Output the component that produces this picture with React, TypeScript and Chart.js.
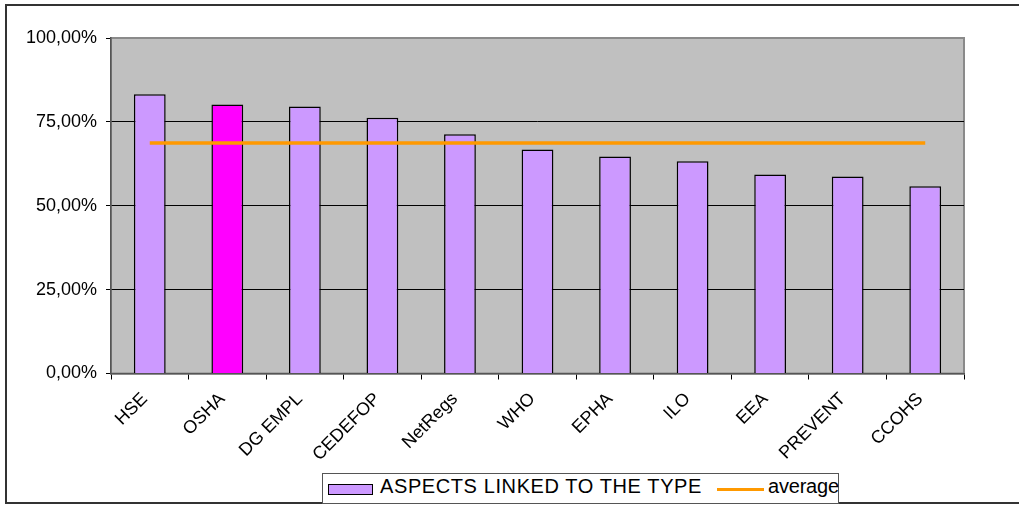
import React, { useEffect, useRef } from "react";
import { Chart, registerables } from "chart.js";

Chart.register(...registerables);

const categories = ["HSE", "OSHA", "DG EMPL", "CEDEFOP", "NetRegs", "WHO", "EPHA", "ILO", "EEA", "PREVENT", "CCOHS"];
const aspectsValues = [83.2, 80.2, 79.6, 76.2, 71.3, 66.8, 64.7, 63.3, 59.3, 58.7, 55.8];
const averageValues = [68.7, 68.7, 68.7, 68.7, 68.7, 68.7, 68.7, 68.7, 68.7, 68.7, 68.7];
const highlighted = "OSHA";
const yTicks = [0, 25, 50, 75, 100];
const barLabel = "ASPECTS LINKED TO THE TYPE";
const lineLabel = "average";

const FONT = "'Liberation Sans', Arial, sans-serif";
const BAR = "#CC99FF";
const BAR_HI = "#FF00FF";
const ORANGE = "#FF9900";

const plotBg = {
  id: "plotBg",
  beforeDraw(chart: any) {
    const { ctx, chartArea: a } = chart;
    ctx.save();
    ctx.fillStyle = "#C0C0C0";
    ctx.fillRect(a.left, a.top, a.right - a.left, a.bottom - a.top);
    ctx.strokeStyle = "#8a8a8a";
    ctx.lineWidth = 2;
    ctx.strokeRect(a.left, a.top, a.right - a.left, a.bottom - a.top);
    ctx.restore();
  },
};

export default function App() {
  const ref = useRef<HTMLCanvasElement>(null);
  useEffect(() => {
    if (!ref.current) return;
    const chart = new Chart(ref.current, {
      type: "bar",
      data: {
        labels: categories,
        datasets: [
          {
            type: "line",
            label: lineLabel,
            data: averageValues,
            borderColor: ORANGE,
            backgroundColor: ORANGE,
            borderWidth: 3.5,
            pointRadius: 0,
            order: 0,
          } as any,
          {
            type: "bar",
            label: barLabel,
            data: aspectsValues,
            backgroundColor: categories.map((c) => (c === highlighted ? BAR_HI : BAR)),
            borderColor: "#000000",
            borderWidth: 1.5,
            barPercentage: 0.41,
            categoryPercentage: 1,
            order: 1,
          } as any,
        ],
      },
      options: {
        animation: false,
        responsive: false,
        maintainAspectRatio: false,
        layout: { padding: { left: 0, right: 55, top: 38, bottom: 0 } },
        plugins: { legend: { display: false }, tooltip: { enabled: false } },
        scales: {
          x: {
            grid: { drawOnChartArea: false, drawTicks: true, tickLength: 6, color: "#000", offset: true },
            border: { color: "#555", width: 1.5 },
            ticks: {
              minRotation: 45,
              maxRotation: 45,
              autoSkip: false,
              color: "#000",
              padding: 9,
              labelOffset: -5,
              font: { family: FONT, size: 18 },
            },
            afterFit: (s: any) => {
              s.height = 133.5;
            },
          },
          y: {
            min: 0,
            max: 100,
            afterBuildTicks: (s: any) => {
              s.ticks = yTicks.map((v) => ({ value: v }));
            },
            grid: {
              color: (c: any) => (c.tick && c.tick.value === 100 ? "rgba(0,0,0,0)" : "#000"),
              tickColor: "#000",
              tickLength: 5,
              lineWidth: 1,
            },
            border: { color: "#555", width: 1.5 },
            ticks: {
              color: "#000",
              padding: 9,
              font: { family: FONT, size: 18 },
              callback: (v: any) => Number(v).toFixed(2).replace(".", ",") + "%",
            },
            afterFit: (s: any) => {
              s.width = 111;
            },
          },
        },
      },
      plugins: [plotBg],
    });
    return () => chart.destroy();
  }, []);

  return (
    <div style={{ position: "fixed", left: 0, top: 0, width: 1019, height: 507, background: "#fff", overflow: "hidden" }}>
      <div
        style={{
          position: "absolute",
          left: 5,
          top: 4,
          width: 1030,
          height: 500,
          border: "2px solid #333",
          boxSizing: "border-box",
        }}
      />
      <canvas ref={ref} width={1019} height={507} style={{ position: "absolute", left: 0, top: 0 }} />
      <div
        style={{
          position: "absolute",
          left: 322,
          top: 473,
          width: 517,
          height: 31,
          border: "1px solid #555",
          boxSizing: "border-box",
          background: "#fff",
          fontFamily: FONT,
          fontSize: 20,
          color: "#000",
        }}
      >
        <div
          style={{
            position: "absolute",
            left: 5,
            top: 10,
            width: 45,
            height: 11,
            background: BAR,
            border: "1.5px solid #000",
            boxSizing: "border-box",
          }}
        />
        <span style={{ position: "absolute", left: 57, top: 1, whiteSpace: "nowrap", lineHeight: "22px", letterSpacing: "0.6px" }}>
          {barLabel}
        </span>
        <div style={{ position: "absolute", left: 394, top: 14, width: 47, height: 3, background: ORANGE }} />
        <span style={{ position: "absolute", left: 445, top: 1, whiteSpace: "nowrap", lineHeight: "22px", letterSpacing: "-0.2px" }}>
          {lineLabel}
        </span>
      </div>
    </div>
  );
}
